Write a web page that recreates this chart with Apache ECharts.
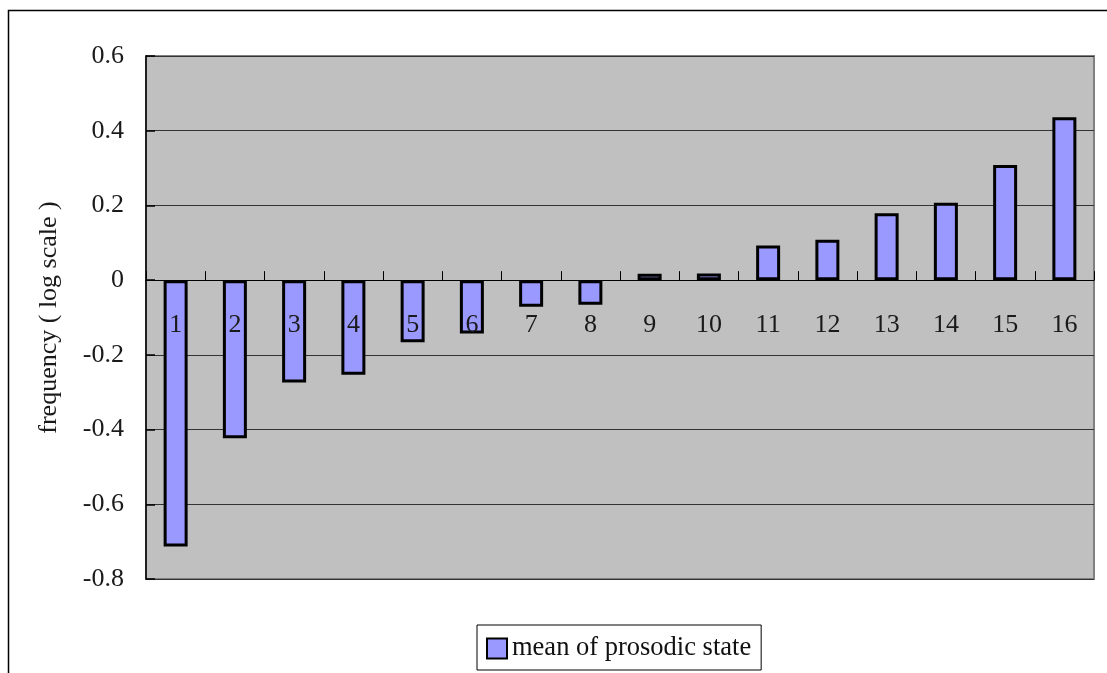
<!DOCTYPE html>
<html>
<head>
<meta charset="utf-8">
<style>
  html, body { margin: 0; padding: 0; background: #fff; }
  #chart { width: 1107px; height: 673px; }
</style>
<script src="https://cdn.jsdelivr.net/npm/echarts@6/dist/echarts.min.js"></script>
</head>
<body>
<div id="chart"></div>
<script>
// Prosodic states 1..16 and the mean log-frequency of each
const states = ['1', '2', '3', '4', '5', '6', '7', '8', '9', '10', '11', '12', '13', '14', '15', '16'];
const meanValues = [-0.713, -0.423, -0.274, -0.253, -0.166, -0.143, -0.071, -0.066,
                    0.017, 0.018, 0.093, 0.108, 0.179, 0.207, 0.308, 0.436];
const seriesName = 'mean of prosodic state';
const yAxisTitle = 'frequency ( log scale )';

const FONT = '"Liberation Serif", "DejaVu Serif", serif';

const Y_MIN = -0.8, Y_MAX = 0.6;
const GRID = { left: 146, top: 56, right: 13, bottom: 94 };
const CHART_H = 673;

// the category axis sits on the zero line, with its labels just below it
const plotH = CHART_H - GRID.top - GRID.bottom;
const zeroOffset = -plotH * (0 - Y_MIN) / (Y_MAX - Y_MIN);

const chart = echarts.init(document.getElementById('chart'), null, { renderer: 'canvas' });

chart.setOption({
  backgroundColor: '#ffffff',
  animation: false,
  textStyle: { fontFamily: FONT },
  graphic: [{
    type: 'rect',
    z: -10,
    silent: true,
    shape: { x: 8.5, y: 10.5, width: 1200, height: 800 },
    style: { fill: 'none', stroke: '#000', lineWidth: 1.5 }
  }],
  grid: {
    left: GRID.left, top: GRID.top, right: GRID.right, bottom: GRID.bottom,
    show: true,
    backgroundColor: '#C0C0C0',
    borderColor: '#808080',
    borderWidth: 2
  },
  legend: {
    data: [seriesName],
    left: 477,
    top: 625,
    padding: [10, 10, 8, 9],
    borderColor: '#000',
    borderWidth: 1,
    backgroundColor: '#fff',
    icon: 'rect',
    itemWidth: 20,
    itemHeight: 20,
    itemGap: 5,
    textStyle: { fontFamily: FONT, fontSize: 26.5, color: '#111' }
  },
  xAxis: {
    type: 'category',
    data: states,
    position: 'bottom',
    offset: zeroOffset,
    z: 5,
    boundaryGap: true,
    axisLine: { onZero: false, lineStyle: { color: '#000', width: 1 } },
    axisTick: { show: true, inside: true, length: 9, lineStyle: { color: '#000', width: 1 } },
    axisLabel: { margin: 32, fontFamily: FONT, fontSize: 26, color: '#1a1a1a' },
    splitLine: { show: false }
  },
  yAxis: {
    type: 'value',
    min: Y_MIN,
    max: Y_MAX,
    interval: 0.2,
    name: yAxisTitle,
    nameLocation: 'middle',
    nameGap: 84,
    nameRotate: 90,
    nameTextStyle: { fontFamily: FONT, fontSize: 26, color: '#1a1a1a' },
    axisLine: { show: true, lineStyle: { color: '#000', width: 1.5 } },
    axisTick: { show: true, inside: true, length: 9, lineStyle: { color: '#000', width: 1.5 } },
    axisLabel: {
      margin: 22,
      fontFamily: FONT,
      fontSize: 26,
      color: '#1a1a1a',
      formatter: function (v) { return String(Math.round(v * 10) / 10); }
    },
    splitLine: { show: true, lineStyle: { color: '#333', width: 1 } }
  },
  series: [{
    name: seriesName,
    type: 'bar',
    data: meanValues,
    barWidth: 24,
    itemStyle: { color: '#9999FF', borderColor: '#000', borderWidth: 3 }
  }]
});
</script>
</body>
</html>
